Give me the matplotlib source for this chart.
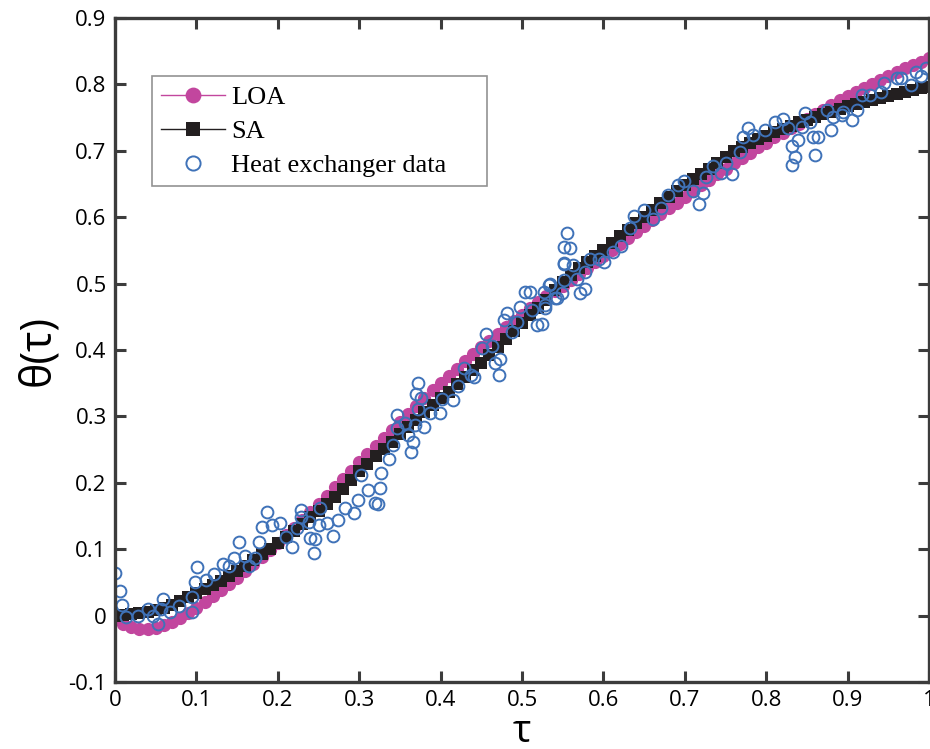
import numpy as np
import matplotlib.pyplot as plt

# grid of tau for the two approximations
tau = np.round(np.arange(0, 101) / 100, 2)

sa = [0.000, 0.001, 0.002, 0.004, 0.006, 0.009, 0.012, 0.016, 0.022, 0.028,
      0.034, 0.040, 0.046, 0.052, 0.059, 0.067, 0.075, 0.083, 0.092, 0.101,
      0.110, 0.119, 0.128, 0.138, 0.148, 0.158, 0.168, 0.179, 0.191, 0.204,
      0.217, 0.229, 0.240, 0.251, 0.262, 0.273, 0.284, 0.295, 0.306, 0.317,
      0.327, 0.337, 0.348, 0.359, 0.370, 0.381, 0.393, 0.405, 0.417, 0.429,
      0.441, 0.452, 0.463, 0.476, 0.490, 0.503, 0.513, 0.523, 0.532, 0.542,
      0.551, 0.561, 0.571, 0.581, 0.591, 0.601, 0.611, 0.621, 0.630, 0.639,
      0.648, 0.657, 0.665, 0.673, 0.682, 0.690, 0.699, 0.705, 0.711, 0.717,
      0.723, 0.728, 0.733, 0.738, 0.743, 0.747, 0.751, 0.755, 0.759, 0.763,
      0.767, 0.771, 0.774, 0.777, 0.780, 0.783, 0.786, 0.789, 0.791, 0.794,
      0.796]

loa = [-0.005, -0.012, -0.017, -0.020, -0.020, -0.018, -0.014, -0.009, -0.003, 0.004,
       0.012, 0.020, 0.029, 0.038, 0.047, 0.057, 0.067, 0.077, 0.088, 0.099,
       0.110, 0.121, 0.132, 0.144, 0.156, 0.168, 0.180, 0.193, 0.205, 0.218,
       0.231, 0.243, 0.256, 0.268, 0.280, 0.292, 0.304, 0.316, 0.328, 0.339,
       0.350, 0.361, 0.372, 0.383, 0.394, 0.404, 0.414, 0.424, 0.434, 0.444,
       0.453, 0.463, 0.472, 0.481, 0.489, 0.497, 0.506, 0.515, 0.524, 0.533,
       0.542, 0.551, 0.560, 0.569, 0.578, 0.587, 0.596, 0.605, 0.614, 0.622,
       0.631, 0.639, 0.648, 0.656, 0.665, 0.673, 0.681, 0.689, 0.697, 0.705,
       0.712, 0.720, 0.727, 0.734, 0.741, 0.748, 0.755, 0.762, 0.769, 0.776,
       0.782, 0.789, 0.795, 0.801, 0.807, 0.813, 0.818, 0.824, 0.829, 0.834,
       0.839]

hx_tau = [0.000, 0.006, 0.008, 0.014, 0.028, 0.041, 0.047, 0.053, 0.059, 0.057,
          0.067, 0.079, 0.094, 0.095, 0.098, 0.101, 0.112, 0.122, 0.133, 0.140,
          0.146, 0.152, 0.160, 0.165, 0.172, 0.177, 0.180, 0.187, 0.193, 0.203,
          0.210, 0.218, 0.223, 0.228, 0.229, 0.238, 0.240, 0.246, 0.244, 0.251,
          0.252, 0.260, 0.268, 0.274, 0.282, 0.293, 0.299, 0.311, 0.319, 0.323,
          0.325, 0.302, 0.327, 0.337, 0.341, 0.346, 0.346, 0.360, 0.364, 0.366,
          0.356, 0.368, 0.372, 0.370, 0.376, 0.372, 0.380, 0.387, 0.399, 0.402,
          0.415, 0.421, 0.429, 0.437, 0.441, 0.451, 0.456, 0.463, 0.467, 0.472,
          0.473, 0.478, 0.482, 0.488, 0.494, 0.498, 0.504, 0.510, 0.512, 0.518,
          0.524, 0.528, 0.533, 0.540, 0.551, 0.555, 0.552, 0.559, 0.552, 0.563,
          0.527, 0.534, 0.528, 0.543, 0.549, 0.551, 0.567, 0.571, 0.577, 0.577,
          0.583, 0.594, 0.601, 0.612, 0.622, 0.632, 0.637, 0.650, 0.661, 0.671,
          0.679, 0.691, 0.699, 0.710, 0.722, 0.717, 0.726, 0.734, 0.744, 0.750,
          0.758, 0.768, 0.772, 0.778, 0.784, 0.799, 0.811, 0.821, 0.827, 0.832,
          0.835, 0.832, 0.839, 0.848, 0.844, 0.854, 0.857, 0.863, 0.860, 0.874,
          0.880, 0.882, 0.893, 0.894, 0.905, 0.912, 0.917, 0.927, 0.941, 0.945,
          0.961, 0.966, 0.978, 0.984, 0.990, 0.996]
hx_theta = [0.064, 0.037, 0.016, -0.002, 0.000, 0.010, -0.001, -0.012, 0.025, 0.010,
            0.006, 0.015, 0.005, 0.028, 0.051, 0.073, 0.053, 0.062, 0.078, 0.075,
            0.087, 0.111, 0.090, 0.075, 0.087, 0.111, 0.134, 0.156, 0.136, 0.139,
            0.118, 0.103, 0.132, 0.159, 0.149, 0.141, 0.117, 0.115, 0.094, 0.136,
            0.162, 0.139, 0.120, 0.144, 0.162, 0.154, 0.174, 0.189, 0.169, 0.168,
            0.192, 0.212, 0.215, 0.236, 0.257, 0.302, 0.282, 0.272, 0.246, 0.261,
            0.290, 0.287, 0.350, 0.334, 0.327, 0.311, 0.284, 0.305, 0.305, 0.326,
            0.325, 0.346, 0.373, 0.362, 0.359, 0.403, 0.424, 0.406, 0.380, 0.363,
            0.387, 0.445, 0.456, 0.427, 0.442, 0.464, 0.487, 0.487, 0.460, 0.437,
            0.439, 0.468, 0.498, 0.478, 0.531, 0.576, 0.555, 0.553, 0.529, 0.528,
            0.487, 0.499, 0.463, 0.478, 0.486, 0.505, 0.507, 0.486, 0.492, 0.517,
            0.537, 0.537, 0.532, 0.547, 0.556, 0.583, 0.602, 0.611, 0.597, 0.614,
            0.634, 0.648, 0.654, 0.639, 0.636, 0.620, 0.660, 0.677, 0.666, 0.681,
            0.665, 0.698, 0.720, 0.734, 0.724, 0.731, 0.743, 0.748, 0.734, 0.707,
            0.691, 0.678, 0.716, 0.757, 0.736, 0.743, 0.720, 0.720, 0.694, 0.761,
            0.731, 0.751, 0.754, 0.758, 0.746, 0.761, 0.784, 0.784, 0.788, 0.802,
            0.809, 0.810, 0.799, 0.819, 0.812, 0.825]

x_ticks = [0, 0.1, 0.2, 0.3, 0.4, 0.5, 0.6, 0.7, 0.8, 0.9, 1]
x_labels = ['0', '0.1', '0.2', '0.3', '0.4', '0.5', '0.6', '0.7', '0.8', '0.9', '1']
y_ticks = [-0.1, 0, 0.1, 0.2, 0.3, 0.4, 0.5, 0.6, 0.7, 0.8, 0.9]
y_labels = ['-0.1', '0', '0.1', '0.2', '0.3', '0.4', '0.5', '0.6', '0.7', '0.8', '0.9']

plt.rcParams['font.family'] = ['Open Sans', 'DejaVu Sans']

fig = plt.figure(figsize=(9.3, 7.49), dpi=100)
ax = fig.add_axes([0.1237, 0.0895, 0.8753, 0.8865])

ax.plot(tau, loa, color='#c2469e', linewidth=1, marker='o', markersize=9.5,
        markeredgewidth=0, label='LOA')
ax.plot(tau, sa, color='#231f20', linewidth=1, marker='s', markersize=8.5,
        markeredgewidth=0, label='SA')
ax.plot(hx_tau, hx_theta, linestyle='none', marker='o', markersize=8.5,
        markerfacecolor='none', markeredgecolor='#3f72b8', markeredgewidth=1.4,
        label='Heat exchanger data')

ax.set_xlim(0, 1)
ax.set_ylim(-0.1, 0.9)
ax.set_xticks(x_ticks)
ax.set_xticklabels(x_labels)
ax.set_yticks(y_ticks)
ax.set_yticklabels(y_labels)
ax.tick_params(direction='in', length=8, width=2.2, color='#3c3c3c',
               labelsize=16, top=True, right=True, pad=6)

for sp in ax.spines.values():
    sp.set_linewidth(2.4)
    sp.set_color('#3c3c3c')

ax.set_xlabel('τ', fontsize=28, labelpad=1)
ax.set_ylabel('θ(τ)', fontsize=31, labelpad=6)

# legend box stretched to the width seen in the figure
leg = ax.legend(loc='upper left', bbox_to_anchor=(0.0454, 0.7455, 0.411, 0.167),
                mode='expand', markerscale=1.2,
                prop={'family': 'Liberation Serif', 'size': 19},
                frameon=True, fancybox=False, edgecolor='#777777',
                borderpad=0.35, labelspacing=0.4, handlelength=2.4,
                handletextpad=0.25, borderaxespad=0)
leg.get_frame().set_linewidth(1.2)

fig.savefig('out.png', dpi=100)
